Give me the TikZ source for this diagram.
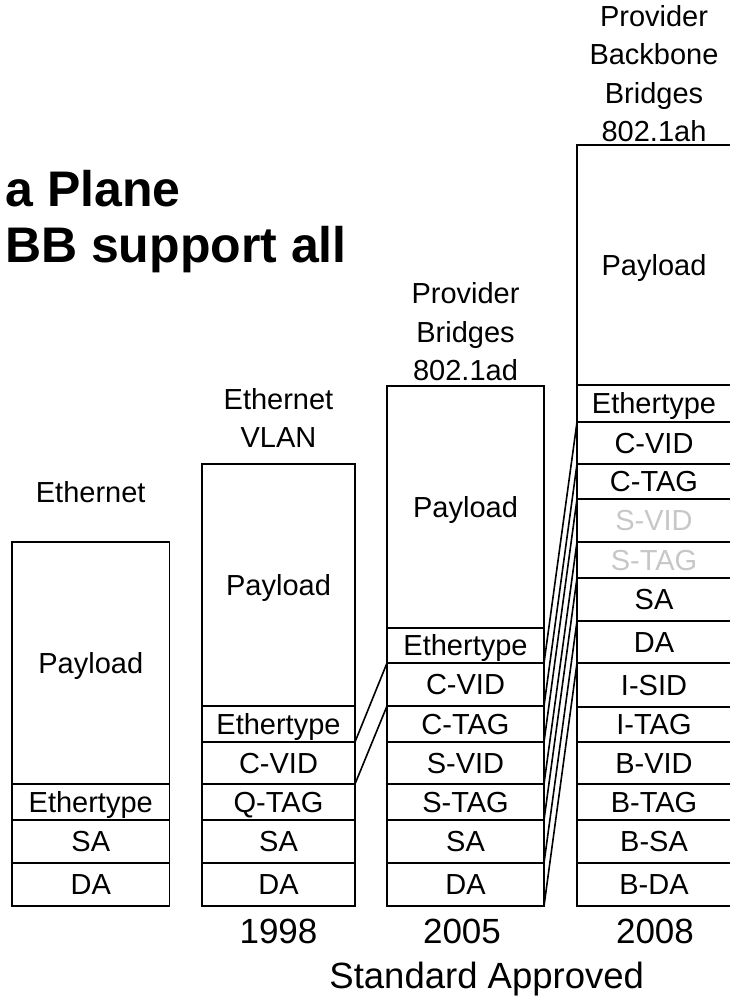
\documentclass[tikz,border=0pt]{standalone}
\usepackage{fontspec}
\setmainfont{Liberation Sans}
\newcommand\fcell[7][]{\node[cellbox,#1,minimum width={(#5-#3)*1pt},minimum height={(#6-#4)*1pt}] (#2) at ({(#3+#5)/2},{(#4+#6)/2}) {#7};}
\begin{document}
\begin{tikzpicture}[x=1pt,y=-1pt,
  lw/.style={line width=1.6pt},
  cellbox/.style={draw, lw, inner sep=0pt, outer sep=0pt, text height=20.6pt, text depth=0pt, font=\fontsize{29}{34}\selectfont},
  faded/.style={text=black!22},
  hdr/.style={font=\fontsize{29}{38.5}\selectfont, align=center, inner sep=0pt, anchor=south},
  yearlbl/.style={font=\fontsize{35}{40}\selectfont, inner sep=0pt, anchor=base},
  titlelbl/.style={font=\bfseries\fontsize{50}{55}\selectfont, inner sep=0pt, anchor=base east},
  link/.style={lw}]
\useasboundingbox (0,0) rectangle (730,998);
\clip (0,0) rectangle (730,998);

% title (cut off at the left)
\node[titlelbl] (t1) at (181,206) {a Plane};
\node[titlelbl] (t2) at (347,262) {BB support all};

% column 1: Ethernet
\node[hdr] (h1) at (90.7,503) {Ethernet};
\fcell{c1pay}{12}{542}{169.5}{784}{Payload}
\fcell{c1eth}{12}{784}{169.5}{820}{Ethertype}
\fcell{c1sa}{12}{820}{169.5}{863}{SA}
\fcell{c1da}{12}{863}{169.5}{906}{DA}

% column 2: Ethernet VLAN
\node[hdr] (h2) at (278.5,448) {Ethernet\\VLAN};
\fcell{c2pay}{202}{464}{355}{706}{Payload}
\fcell{c2eth}{202}{706}{355}{742}{Ethertype}
\fcell{c2cvid}{202}{742}{355}{784}{C-VID}
\fcell{c2qtag}{202}{784}{355}{820}{Q-TAG}
\fcell{c2sa}{202}{820}{355}{863}{SA}
\fcell{c2da}{202}{863}{355}{906}{DA}

% column 3: Provider Bridges
\node[hdr] (h3) at (465.5,381) {Provider\\Bridges\\802.1ad};
\fcell{c3pay}{387}{386}{544}{628}{Payload}
\fcell{c3eth}{387}{628}{544}{663}{Ethertype}
\fcell{c3cvid}{387}{663}{544}{706}{C-VID}
\fcell{c3ctag}{387}{706}{544}{742}{C-TAG}
\fcell{c3svid}{387}{742}{544}{784}{S-VID}
\fcell{c3stag}{387}{784}{544}{820}{S-TAG}
\fcell{c3sa}{387}{820}{544}{863}{SA}
\fcell{c3da}{387}{863}{544}{906}{DA}

% column 4: Provider Backbone Bridges
\node[hdr] (h4) at (654,142) {Provider\\Backbone\\Bridges\\802.1ah};
\fcell{c4pay}{577}{145}{731}{385}{Payload}
\fcell{c4eth}{577}{385}{731}{422}{Ethertype}
\fcell{c4cvid}{577}{422}{731}{464}{C-VID}
\fcell{c4ctag}{577}{464}{731}{499}{C-TAG}
\fcell[faded]{c4svid}{577}{499}{731}{542}{S-VID}
\fcell[faded]{c4stag}{577}{542}{731}{578}{S-TAG}
\fcell{c4sa}{577}{578}{731}{621}{SA}
\fcell{c4da}{577}{621}{731}{663}{DA}
\fcell{c4isid}{577}{663}{731}{707}{I-SID}
\fcell{c4itag}{577}{707}{731}{742}{I-TAG}
\fcell{c4bvid}{577}{742}{731}{784}{B-VID}
\fcell{c4btag}{577}{784}{731}{820}{B-TAG}
\fcell{c4bsa}{577}{820}{731}{863}{B-SA}
\fcell{c4bda}{577}{863}{731}{906}{B-DA}

% connectors 1998 -> 2005
\draw[link] (c2cvid.north east) -- (c3cvid.north west);
\draw[link] (c2qtag.north east) -- (c3ctag.north west);

% connectors 2005 -> 2008
\draw[link] (c3cvid.north east) -- (c4cvid.north west);
\draw[link] (c3ctag.north east) -- (c4ctag.north west);
\draw[link] (c3svid.north east) -- (c4svid.north west);
\draw[link] (c3stag.north east) -- (c4stag.north west);
\draw[link] (c3sa.north east) -- (c4sa.north west);
\draw[link] (c3da.north east) -- (c4da.north west);
\draw[link] (c3da.south east) -- (c4isid.north west);

% years
\node[yearlbl] (y1) at (278.5,943) {1998};
\node[yearlbl] (y2) at (462,943) {2005};
\node[yearlbl] (y3) at (655,943) {2008};
\node[yearlbl, font=\fontsize{36.5}{40}\selectfont] (std) at (486.7,988) {Standard Approved};
\end{tikzpicture}
\end{document}
